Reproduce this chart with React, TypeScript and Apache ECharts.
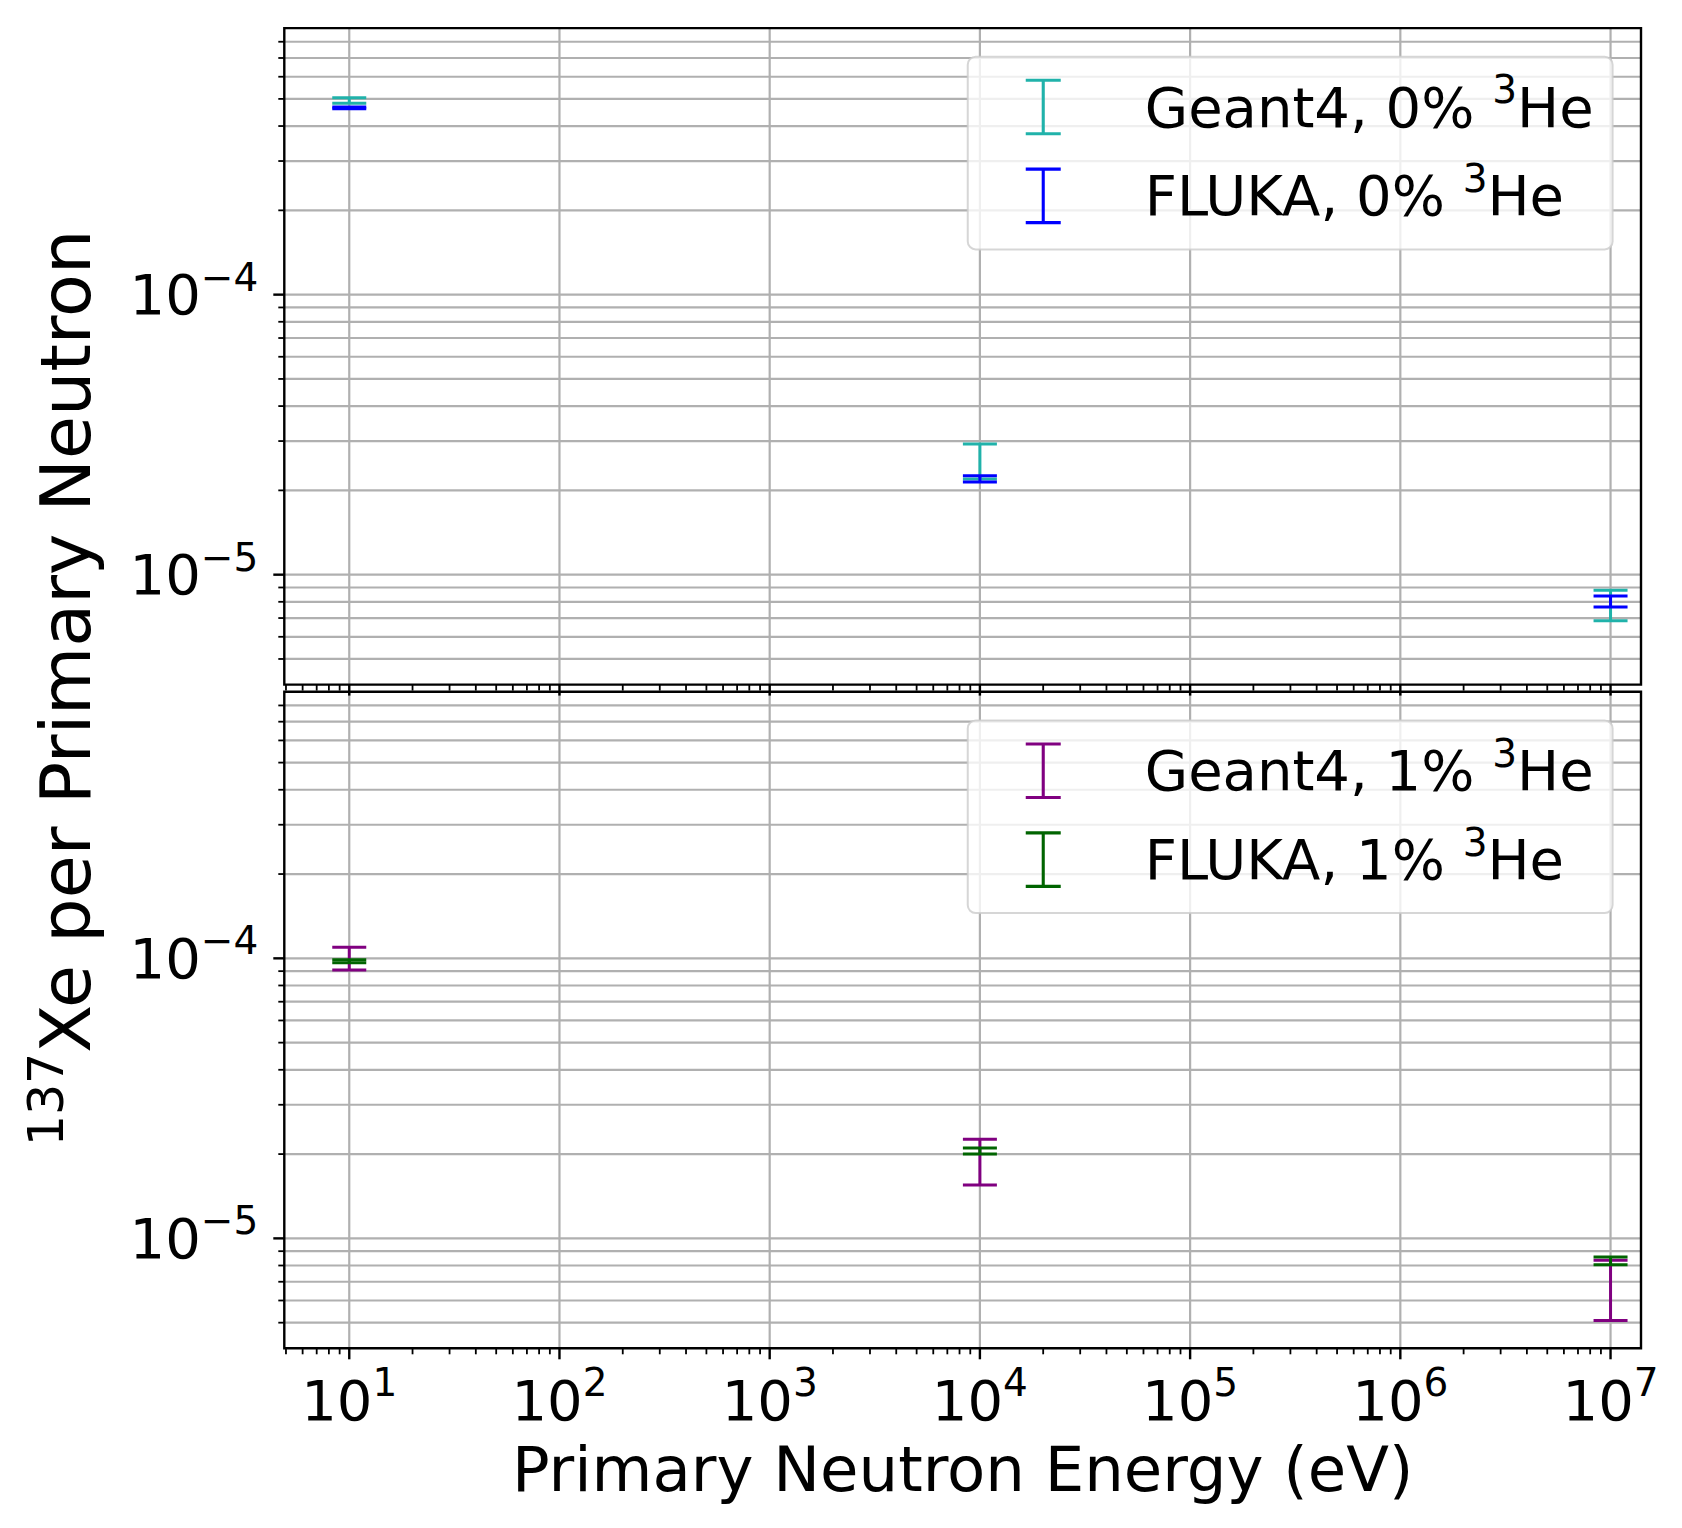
import React, { useEffect, useRef } from "react";
import * as echarts from "echarts";

// ---------- data ----------
const ENERGY_EV = [1e1, 1e4, 1e7];

const G4_0HE_LOW = [4.82e-4, 2.198e-5, 6.845e-6];
const G4_0HE_HIGH = [5.05e-4, 2.93e-5, 8.797e-6];
const FLUKA_0HE_LOW = [4.615e-4, 2.143e-5, 7.67e-6];
const FLUKA_0HE_HIGH = [4.677e-4, 2.255e-5, 8.385e-6];

const G4_1HE_LOW = [9.08e-5, 1.55e-5, 5.095e-6];
const G4_1HE_HIGH = [1.095e-4, 2.26e-5, 8.35e-6];
const FLUKA_1HE_LOW = [9.65e-5, 2.0e-5, 8.055e-6];
const FLUKA_1HE_HIGH = [9.885e-5, 2.102e-5, 8.575e-6];

const SERIES_TOP = ["Geant4, 0% ³He", "FLUKA, 0% ³He"];
const SERIES_BOTTOM = ["Geant4, 1% ³He", "FLUKA, 1% ³He"];
const COLORS_TOP = ["#20B2AA", "#0000FF"];
const COLORS_BOTTOM = ["#800080", "#006400"];

const X_RANGE_EV = [4.909, 1.396e7];
const Y_RANGE = [4.05e-6, 8.95e-4];

const X_MAJOR_EXP = [1, 2, 3, 4, 5, 6, 7];
const Y_MAJOR_EXP = [-5, -4];
const X_DECADES = [0, 1, 2, 3, 4, 5, 6, 7];
const Y_DECADES = [-6, -5, -4, -3];
const MINOR_MULT = [2, 3, 4, 5, 6, 7, 8, 9];

const X_TITLE = "Primary Neutron Energy (eV)";
const Y_TITLE_SUP = "137";
const Y_TITLE_MAIN = "Xe per Primary Neutron";

// ---------- derived ----------
const log10 = Math.log10;
const X_MIN = log10(X_RANGE_EV[0]);
const X_MAX = log10(X_RANGE_EV[1]);
const Y_MIN = log10(Y_RANGE[0]);
const Y_MAX = log10(Y_RANGE[1]);

const X_MINOR = X_DECADES.flatMap((d) => MINOR_MULT.map((m) => d + log10(m))).filter(
  (v) => v > X_MIN && v < X_MAX
);
const Y_MINOR = Y_DECADES.flatMap((d) => MINOR_MULT.map((m) => d + log10(m))).filter(
  (v) => v > Y_MIN && v < Y_MAX
);

const FONT = "'DejaVu Sans', sans-serif";
const GRID_LEFT = 284.3;
const GRID_RIGHT = 41;
const GRID_H = 656.5;
const GRID_TOPS = [28.1, 691.8];
const CAP = 34;
const EBAR_LW = 3;

const GRID_STYLE = { stroke: "#b0b0b0", lineWidth: 2.2 };
const MAJOR_TICK = { stroke: "#000", lineWidth: 2.4 };
const MINOR_TICK = { stroke: "#000", lineWidth: 1.8 };
const MAJOR_LEN = 11;
const MINOR_LEN = 6;

const ERRBAR_ICON =
  "path://M0,0L34,0L34,3L0,3Z M15.5,3L18.5,3L18.5,52L15.5,52Z M0,52L34,52L34,55L0,55Z";

const isInt = (v: number) => Math.abs(v - Math.round(v)) < 1e-6;

const tickRich = {
  b: { fontSize: 56, fontFamily: FONT, color: "#000" },
  s: { fontSize: 39, fontFamily: FONT, color: "#000", padding: [0, 0, 35, 0] },
};

function gridRender(params: any, api: any) {
  const cs = params.coordSys;
  const children: any[] = [];
  for (const e of X_MAJOR_EXP) {
    const px = api.coord([e, Y_MIN])[0];
    children.push({
      type: "line",
      shape: { x1: px, y1: cs.y, x2: px, y2: cs.y + cs.height },
      style: GRID_STYLE,
    });
  }
  for (const v of [...Y_MAJOR_EXP, ...Y_MINOR]) {
    const py = api.coord([X_MIN, v])[1];
    children.push({
      type: "line",
      shape: { x1: cs.x, y1: py, x2: cs.x + cs.width, y2: py },
      style: GRID_STYLE,
    });
  }
  return { type: "group", children };
}

function frameRender(params: any, api: any) {
  const cs = params.coordSys;
  const children: any[] = [];
  const yb = cs.y + cs.height;
  for (const v of Y_MAJOR_EXP) {
    const py = api.coord([X_MIN, v])[1];
    children.push({ type: "line", shape: { x1: cs.x - MAJOR_LEN, y1: py, x2: cs.x, y2: py }, style: MAJOR_TICK });
  }
  for (const v of Y_MINOR) {
    const py = api.coord([X_MIN, v])[1];
    children.push({ type: "line", shape: { x1: cs.x - MINOR_LEN, y1: py, x2: cs.x, y2: py }, style: MINOR_TICK });
  }
  for (const v of X_MAJOR_EXP) {
    const px = api.coord([v, Y_MIN])[0];
    children.push({ type: "line", shape: { x1: px, y1: yb, x2: px, y2: yb + MAJOR_LEN }, style: MAJOR_TICK });
  }
  for (const v of X_MINOR) {
    const px = api.coord([v, Y_MIN])[0];
    children.push({ type: "line", shape: { x1: px, y1: yb, x2: px, y2: yb + MINOR_LEN }, style: MINOR_TICK });
  }
  children.push({
    type: "rect",
    shape: { x: cs.x, y: cs.y, width: cs.width, height: cs.height },
    style: { fill: "none", stroke: "#000", lineWidth: 2.4 },
  });
  return { type: "group", children };
}

function errorBarRender(params: any, api: any) {
  const x = api.value(0);
  const lo = api.value(1);
  const hi = api.value(2);
  const pLo = api.coord([x, lo]);
  const pHi = api.coord([x, hi]);
  const color = api.visual("color");
  const style = { stroke: color, lineWidth: EBAR_LW };
  const h = CAP / 2;
  return {
    type: "group",
    children: [
      { type: "line", shape: { x1: pLo[0], y1: pLo[1], x2: pHi[0], y2: pHi[1] }, style },
      { type: "line", shape: { x1: pLo[0] - h, y1: pLo[1], x2: pLo[0] + h, y2: pLo[1] }, style },
      { type: "line", shape: { x1: pHi[0] - h, y1: pHi[1], x2: pHi[0] + h, y2: pHi[1] }, style },
    ],
  };
}

function ebarData(lo: number[], hi: number[]) {
  return ENERGY_EV.map((e, i) => [log10(e), log10(lo[i]), log10(hi[i])]);
}

function legendFormatter(name: string) {
  const [pre, post] = name.split("³");
  return `{g| }{t|${pre}}{s|3}{t|${post}}`;
}

function makeLegend(names: string[], top: number) {
  return {
    data: names.map((n) => ({ name: n, icon: ERRBAR_ICON })),
    orient: "vertical",
    right: 69.4,
    top,
    itemWidth: 35,
    itemHeight: 56.6,
    itemGap: 23.6,
    padding: [13.3, 19, 25.2, 58],
    selectedMode: false,
    backgroundColor: "rgba(255,255,255,0.8)",
    borderColor: "rgba(204,204,204,0.8)",
    borderWidth: 2,
    borderRadius: 8,
    itemStyle: { borderWidth: 0 },
    formatter: legendFormatter,
    textStyle: {
      color: "#000",
      fontFamily: FONT,
      fontSize: 56,
      rich: {
        g: { width: 79, fontSize: 56, fontFamily: FONT },
        t: { fontSize: 56, fontFamily: FONT, color: "#000" },
        s: { fontSize: 39, fontFamily: FONT, color: "#000", padding: [0, 0, 35, 0] },
      },
    },
  };
}

function buildOption() {
  const xAxis = [0, 1].map((i) => ({
    type: "value",
    gridIndex: i,
    min: X_MIN,
    max: X_MAX,
    minInterval: 1,
    maxInterval: 1,
    splitNumber: 6,
    axisLine: { show: false },
    axisTick: { show: false },
    splitLine: { show: false },
    axisLabel:
      i === 1
        ? {
            show: true,
            margin: 14.7,
            formatter: (v: number) => (isInt(v) ? `{b|10}{s|${Math.round(v)}}` : ""),
            rich: tickRich,
          }
        : { show: false },
    ...(i === 1
      ? {
          name: X_TITLE,
          nameLocation: "middle",
          nameGap: 89.5,
          nameTextStyle: { fontSize: 62.5, lineHeight: 62.5, fontFamily: FONT, color: "#000" },
        }
      : {}),
  }));
  const yAxis = [0, 1].map((i) => ({
    type: "value",
    gridIndex: i,
    min: Y_MIN,
    max: Y_MAX,
    minInterval: 1,
    maxInterval: 1,
    splitNumber: 3,
    axisLine: { show: false },
    axisTick: { show: false },
    splitLine: { show: false },
    axisLabel: {
      show: true,
      margin: 26,
      formatter: (v: number) => (isInt(v) ? `{b|10}{s|−${Math.abs(Math.round(v))}}` : ""),
      rich: tickRich,
    },
  }));

  const series: any[] = [];
  [0, 1].forEach((g) => {
    series.push({
      type: "custom",
      name: "grid" + g,
      xAxisIndex: g,
      yAxisIndex: g,
      data: [[X_MIN, Y_MIN]],
      renderItem: gridRender,
      silent: true,
      clip: false,
      z: 1,
    });
  });
  const tops = [
    [G4_0HE_LOW, G4_0HE_HIGH],
    [FLUKA_0HE_LOW, FLUKA_0HE_HIGH],
  ];
  const bottoms = [
    [G4_1HE_LOW, G4_1HE_HIGH],
    [FLUKA_1HE_LOW, FLUKA_1HE_HIGH],
  ];
  tops.forEach(([lo, hi], k) => {
    series.push({
      type: "custom",
      name: SERIES_TOP[k],
      xAxisIndex: 0,
      yAxisIndex: 0,
      data: ebarData(lo, hi),
      encode: { x: 0, y: [1, 2] },
      renderItem: errorBarRender,
      itemStyle: { color: COLORS_TOP[k] },
      silent: true,
      clip: false,
      z: 2,
    });
  });
  bottoms.forEach(([lo, hi], k) => {
    series.push({
      type: "custom",
      name: SERIES_BOTTOM[k],
      xAxisIndex: 1,
      yAxisIndex: 1,
      data: ebarData(lo, hi),
      encode: { x: 0, y: [1, 2] },
      renderItem: errorBarRender,
      itemStyle: { color: COLORS_BOTTOM[k] },
      silent: true,
      clip: false,
      z: 2,
    });
  });
  [0, 1].forEach((g) => {
    series.push({
      type: "custom",
      name: "frame" + g,
      xAxisIndex: g,
      yAxisIndex: g,
      data: [[X_MIN, Y_MIN]],
      renderItem: frameRender,
      silent: true,
      clip: false,
      z: 3,
    });
  });

  return {
    animation: false,
    backgroundColor: "#ffffff",
    grid: GRID_TOPS.map((t) => ({
      left: GRID_LEFT,
      right: GRID_RIGHT,
      top: t,
      height: GRID_H,
      containLabel: false,
      outerBoundsMode: "none",
    })),
    xAxis,
    yAxis,
    legend: [makeLegend(SERIES_TOP, 56.7), makeLegend(SERIES_BOTTOM, 720.4)],
    graphic: [
      {
        type: "text",
        x: 65.8,
        y: 688,
        rotation: Math.PI / 2,
        silent: true,
        style: {
          text: `{s|${Y_TITLE_SUP}}{t|${Y_TITLE_MAIN}}`,
          align: "center",
          verticalAlign: "middle",
          fill: "#000",
          fontFamily: FONT,
          fontSize: 70,
          rich: {
            s: { fontSize: 49, fontFamily: FONT, fill: "#000", padding: [0, 0, 39, 0] },
            t: { fontSize: 70, fontFamily: FONT, fill: "#000" },
          },
        },
      },
    ],
    series,
  };
}

export default function App() {
  const ref = useRef<HTMLDivElement>(null);
  useEffect(() => {
    if (!ref.current) return;
    const chart = echarts.init(ref.current, null, { renderer: "svg", width: 1682, height: 1528 });
    chart.setOption(buildOption() as any);
    return () => chart.dispose();
  }, []);
  return (
    <div
      ref={ref}
      style={{ position: "absolute", left: 0, top: 0, width: 1682, height: 1528, background: "#fff" }}
    />
  );
}
